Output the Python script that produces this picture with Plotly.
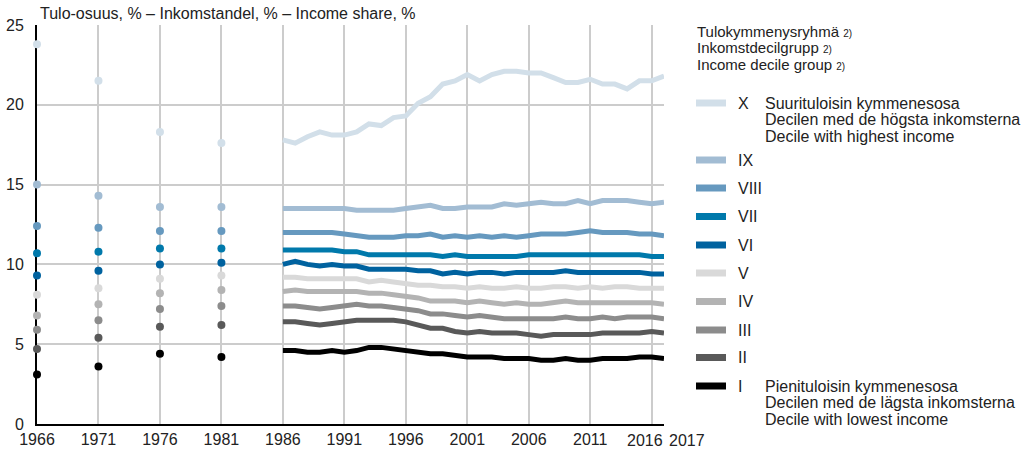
import plotly.graph_objects as go

# Survey years shown as single points, then the annual series
years_early = [1966, 1971, 1976, 1981]
years_late = list(range(1986, 2018))
tick_years = list(range(1966, 2017, 5))

deciles = ["I", "II", "III", "IV", "V", "VI", "VII", "VIII", "IX", "X"]
colors = ["#000000", "#595959", "#8c8c8c", "#b3b3b3", "#d9d9d9",
          "#00629f", "#0079ab", "#6699bf", "#a2bcd3", "#d2dfe9"]

# Income share, %, for 1966, 1971, 1976, 1981
early_I = [3.1, 3.6, 4.4, 4.2]
early_II = [4.7, 5.4, 6.1, 6.2]
early_III = [5.9, 6.5, 7.2, 7.4]
early_IV = [6.8, 7.5, 8.2, 8.4]
early_V = [8.1, 8.5, 9.1, 9.3]
early_VI = [9.3, 9.6, 10.0, 10.1]
early_VII = [10.7, 10.8, 11.0, 11.0]
early_VIII = [12.4, 12.3, 12.1, 12.1]
early_IX = [15.0, 14.3, 13.6, 13.6]
early_X = [23.8, 21.5, 18.3, 17.6]

# Income share, %, 1986-2017
late_I = [4.6, 4.6, 4.5, 4.5, 4.6, 4.5, 4.6, 4.8, 4.8, 4.7, 4.6, 4.5, 4.4, 4.4, 4.3, 4.2,
          4.2, 4.2, 4.1, 4.1, 4.1, 4.0, 4.0, 4.1, 4.0, 4.0, 4.1, 4.1, 4.1, 4.2, 4.2, 4.1]
late_II = [6.4, 6.4, 6.3, 6.2, 6.3, 6.4, 6.5, 6.5, 6.5, 6.5, 6.4, 6.2, 6.0, 6.0, 5.8, 5.7,
           5.8, 5.7, 5.7, 5.7, 5.6, 5.5, 5.6, 5.6, 5.6, 5.6, 5.7, 5.7, 5.7, 5.7, 5.8, 5.7]
late_III = [7.4, 7.4, 7.3, 7.2, 7.3, 7.4, 7.5, 7.4, 7.4, 7.3, 7.2, 7.1, 6.9, 6.9, 6.8, 6.7,
            6.8, 6.7, 6.6, 6.6, 6.6, 6.6, 6.6, 6.7, 6.6, 6.6, 6.7, 6.6, 6.7, 6.7, 6.7, 6.6]
late_IV = [8.3, 8.4, 8.3, 8.3, 8.3, 8.3, 8.3, 8.2, 8.2, 8.1, 8.0, 7.9, 7.7, 7.7, 7.7, 7.6,
           7.7, 7.6, 7.5, 7.6, 7.5, 7.5, 7.6, 7.7, 7.6, 7.6, 7.6, 7.6, 7.6, 7.6, 7.6, 7.5]
late_V = [9.2, 9.2, 9.1, 9.1, 9.1, 9.1, 9.1, 8.9, 9.0, 8.9, 8.8, 8.7, 8.7, 8.6, 8.6, 8.5,
          8.6, 8.5, 8.5, 8.6, 8.5, 8.5, 8.6, 8.6, 8.5, 8.6, 8.5, 8.6, 8.6, 8.5, 8.5, 8.5]
late_VI = [10.0, 10.2, 10.0, 9.9, 10.0, 9.9, 9.9, 9.7, 9.7, 9.7, 9.7, 9.6, 9.6, 9.4, 9.5, 9.4,
           9.5, 9.5, 9.4, 9.5, 9.5, 9.5, 9.5, 9.6, 9.5, 9.5, 9.5, 9.5, 9.5, 9.5, 9.4, 9.4]
late_VII = [10.9, 10.9, 10.9, 10.9, 10.9, 10.8, 10.8, 10.6, 10.6, 10.6, 10.6, 10.6, 10.6, 10.5, 10.6, 10.5,
            10.5, 10.5, 10.5, 10.5, 10.6, 10.6, 10.6, 10.6, 10.6, 10.6, 10.6, 10.6, 10.6, 10.6, 10.5, 10.5]
late_VIII = [12.0, 12.0, 12.0, 12.0, 12.0, 11.9, 11.8, 11.7, 11.7, 11.7, 11.8, 11.8, 11.9, 11.7, 11.8, 11.7,
             11.8, 11.7, 11.8, 11.7, 11.8, 11.9, 11.9, 11.9, 12.0, 12.1, 12.0, 12.0, 12.0, 11.9, 11.9, 11.8]
late_IX = [13.5, 13.5, 13.5, 13.5, 13.5, 13.5, 13.4, 13.4, 13.4, 13.4, 13.5, 13.6, 13.7, 13.5, 13.5, 13.6,
           13.6, 13.6, 13.8, 13.7, 13.8, 13.9, 13.8, 13.8, 14.0, 13.8, 14.0, 14.0, 14.0, 13.9, 13.8, 13.9]
late_X = [17.8, 17.6, 18.0, 18.3, 18.1, 18.1, 18.3, 18.8, 18.7, 19.2, 19.3, 20.1, 20.5, 21.3, 21.5, 21.9,
          21.5, 21.9, 22.1, 22.1, 22.0, 22.0, 21.7, 21.4, 21.4, 21.6, 21.3, 21.3, 21.0, 21.5, 21.5, 21.8]

early = [early_I, early_II, early_III, early_IV, early_V,
         early_VI, early_VII, early_VIII, early_IX, early_X]
late = [late_I, late_II, late_III, late_IV, late_V,
        late_VI, late_VII, late_VIII, late_IX, late_X]

title_text = "Tulo-osuus, % – Inkomstandel, % – Income share, %"
legend_title = ["Tulokymmenysryhmä", "Inkomstdecilgrupp", "Income decile group"]
desc_X = ["Suurituloisin kymmenesosa", "Decilen med de högsta inkomsterna",
          "Decile with highest income"]
desc_I = ["Pienituloisin kymmenesosa", "Decilen med de lägsta inkomsterna",
          "Decile with lowest income"]

FONT = "Liberation Sans, Arial, sans-serif"
TEXT = "#222222"
W, H = 1029, 451
L, R, T, B = 37, 365, 25, 27
plot_w = W - L - R
plot_h = H - T - B


def px_x(px):
    return (px - L) / plot_w


def px_y(py):
    return (H - B - py) / plot_h


fig = go.Figure()

for name, col, e_vals, l_vals in zip(deciles, colors, early, late):
    fig.add_trace(go.Scatter(
        x=years_late, y=l_vals, mode="lines", name=name,
        line=dict(color=col, width=5), showlegend=False, hoverinfo="skip"))
    fig.add_trace(go.Scatter(
        x=years_early, y=e_vals, mode="markers", name=name,
        marker=dict(color=col, size=8, line=dict(width=0)),
        showlegend=False, hoverinfo="skip", cliponaxis=False))

shapes = []
annotations = []

# Chart title above the plot area
annotations.append(dict(
    xref="paper", yref="paper", x=px_x(38), y=px_y(13), xanchor="left", yanchor="middle",
    text=title_text, showarrow=False, font=dict(family=FONT, size=16, color=TEXT)))

# The last two year labels are nudged apart so they do not collide
annotations.append(dict(
    xref="x", yref="paper", x=tick_years[-1], y=px_y(440), xanchor="center", yanchor="middle",
    xshift=-7, text=str(tick_years[-1]), showarrow=False,
    font=dict(family=FONT, size=16, color=TEXT)))
annotations.append(dict(
    xref="x", yref="paper", x=years_late[-1], y=px_y(440), xanchor="left", yanchor="middle",
    xshift=3, text=str(years_late[-1]), showarrow=False,
    font=dict(family=FONT, size=16, color=TEXT)))

# Legend heading
for i, line in enumerate(legend_title):
    annotations.append(dict(
        xref="paper", yref="paper", x=px_x(695), y=px_y(31 + 16.5 * i),
        xanchor="left", yanchor="middle", showarrow=False,
        text=f"{line} <span style='font-size:10px'>2)</span>",
        font=dict(family=FONT, size=15, color=TEXT)))

# Legend rows, top (X) to bottom (I)
row_y = {"X": 103, "IX": 160, "VIII": 188, "VII": 216.5, "VI": 245,
         "V": 273, "IV": 301.5, "III": 330, "II": 357.5, "I": 386}
for name, col in zip(deciles, colors):
    yc = row_y[name]
    shapes.append(dict(
        type="rect", xref="paper", yref="paper",
        x0=px_x(696), x1=px_x(726), y0=px_y(yc + 3.5), y1=px_y(yc - 3.5),
        fillcolor=col, line=dict(width=0)))
    annotations.append(dict(
        xref="paper", yref="paper", x=px_x(736), y=px_y(yc),
        xanchor="left", yanchor="middle", showarrow=False,
        text=name, font=dict(family=FONT, size=16, color=TEXT)))

for name, desc in (("X", desc_X), ("I", desc_I)):
    for i, line in enumerate(desc):
        annotations.append(dict(
            xref="paper", yref="paper", x=px_x(763), y=px_y(row_y[name] + 16.5 * i),
            xanchor="left", yanchor="middle", showarrow=False,
            text=line, font=dict(family=FONT, size=16, color=TEXT)))

fig.update_layout(
    width=W, height=H,
    margin=dict(l=L, r=R, t=T, b=B),
    paper_bgcolor="white", plot_bgcolor="white",
    font=dict(family=FONT, size=16, color=TEXT),
    shapes=shapes, annotations=annotations,
    showlegend=False,
)

fig.update_xaxes(
    range=[1966, 2017], tickvals=tick_years,
    ticktext=[str(y) for y in tick_years[:-1]] + [""],
    showgrid=True, gridcolor="#cccccc", gridwidth=1.5,
    showline=True, linecolor="#000000", linewidth=2,
    zeroline=False, ticks="", automargin=False, layer="below traces",
    tickfont=dict(family=FONT, size=16, color=TEXT),
)
fig.update_yaxes(
    range=[0, 25], tickvals=[0, 5, 10, 15, 20, 25],
    showgrid=True, gridcolor="#cccccc", gridwidth=1.5,
    showline=True, linecolor="#000000", linewidth=2,
    zeroline=False, ticks="", ticklabelstandoff=8, automargin=False,
    layer="below traces",
    tickfont=dict(family=FONT, size=16, color=TEXT),
)

fig.write_html("out.html")
